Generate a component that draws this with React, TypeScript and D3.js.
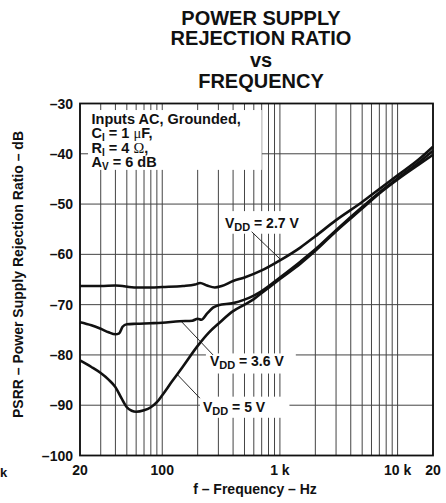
import * as d3 from "d3";
import { useEffect, useRef } from "react";

// frequency (Hz) and PSRR (dB)
const F_27 = [20, 30, 40, 60, 80, 100, 150, 190, 210, 240, 280, 320, 400, 500, 700, 1000, 1500, 2000, 3000, 5000, 7000, 10000, 15000, 20000];
const DB_27 = [-66.3, -66.3, -66.2, -66.6, -66.6, -66.5, -66.3, -66.0, -65.7, -66.2, -66.6, -66.3, -65.3, -64.6, -63.2, -61.2, -58.6, -56.4, -53.2, -49.6, -47.0, -44.3, -41.2, -38.6];

const F_36 = [20, 25, 30, 35, 40, 43, 46, 50, 60, 80, 100, 140, 180, 200, 215, 240, 270, 300, 400, 500, 600, 700, 1000, 1500, 2000, 3000, 5000, 7000, 10000, 15000, 20000];
const DB_36 = [-73.5, -74.1, -74.8, -75.5, -75.9, -75.7, -74.4, -73.9, -73.8, -73.7, -73.6, -73.3, -73.2, -72.8, -73.0, -71.8, -70.6, -70.1, -69.7, -69.0, -68.2, -67.3, -64.6, -61.4, -59.0, -55.2, -50.6, -47.7, -44.9, -41.8, -39.4];

const F_5 = [20, 25, 30, 35, 40, 45, 50, 55, 60, 70, 80, 90, 100, 120, 150, 200, 250, 300, 400, 500, 600, 700, 1000, 1500, 2000, 3000, 5000, 7000, 10000, 15000, 20000];
const DB_5 = [-81.1, -82.4, -83.6, -84.9, -86.4, -88.6, -90.4, -91.1, -91.3, -91.0, -90.4, -89.4, -88.0, -85.4, -82.3, -78.2, -75.5, -73.8, -71.3, -70.0, -68.9, -67.7, -64.9, -61.8, -59.3, -55.4, -50.9, -47.9, -45.1, -42.2, -40.2];

const X_TICKS = [20, 100, 1000, 10000, 20000];
const X_TICK_LABELS = ["20", "100", "1 k", "10 k", "20"];
const Y_TICKS = [-30, -40, -50, -60, -70, -80, -90, -100];
const GRID_F = [20, 30, 40, 50, 60, 70, 80, 90, 100, 200, 300, 400, 500, 600, 700, 800, 900, 1000, 2000, 3000, 4000, 5000, 6000, 7000, 8000, 9000, 10000, 20000];

// curve labels: text anchor, white box and leader line, in (Hz, dB)
const LABELS = [
  { v: "2.7", at: [341, -54.75], box: [325, 1600, -51.4, -55.9], lead: [[575, -55.5], [1000, -60.9]] },
  { v: "3.6", at: [254, -82.2], box: [235, 1365, -79.7, -83.7], lead: [[146, -73.4], [270, -80]] },
  { v: "5", at: [222, -91.3], box: [209, 1205, -88.3, -92.5], lead: [[133, -83.8], [209, -88.6]] },
];

const COND_BOX = [23.4, 700, -31.3, -43.2];
const COND_LINES = [
  [{ t: "Inputs AC, Grounded," }],
  [{ t: "C" }, { t: "I", sub: true }, { t: " = 1 " }, { t: "\u03bc", serif: true }, { t: "F," }],
  [{ t: "R" }, { t: "I", sub: true }, { t: " = 4 " }, { t: "\u03a9", serif: true }, { t: "," }],
  [{ t: "A" }, { t: "V", sub: true }, { t: " = 6 dB" }],
];

const FONT = "'Liberation Sans', Arial, Helvetica, sans-serif";

export default function App() {
  const ref = useRef<SVGSVGElement | null>(null);

  useEffect(() => {
    const el = ref.current;
    if (!el) return;
    const svg = d3.select(el);
    svg.selectAll("*").remove();

    const W = 446;
    const H = 503;
    const L = 80, R = 433, T = 103.5, B = 455.5;

    const x = d3.scaleLog().domain([20, 20000]).range([L, R]);
    const y = d3.scaleLinear().domain([-100, -30]).range([B, T]);

    svg.attr("width", W).attr("height", H).attr("viewBox", `0 0 ${W} ${H}`)
      .attr("font-family", FONT).attr("font-weight", "bold");

    svg.append("rect").attr("width", W).attr("height", H).attr("fill", "#fff");

    // title
    const title = [["POWER SUPPLY", 25], ["REJECTION RATIO", 45], ["vs", 66.5], ["FREQUENCY", 88.3]] as const;
    svg.selectAll("text.title").data(title).join("text")
      .attr("class", "title")
      .attr("x", 261).attr("y", (d) => d[1])
      .attr("text-anchor", "middle").attr("font-size", 20).attr("fill", "#111")
      .text((d) => d[0]);

    const g = svg.append("g");

    // grid
    g.selectAll("line.vg").data(GRID_F).join("line")
      .attr("class", "vg")
      .attr("x1", (d) => x(d)).attr("x2", (d) => x(d))
      .attr("y1", T).attr("y2", B)
      .attr("stroke", "#444").attr("stroke-width", 1);
    g.selectAll("line.hg").data(Y_TICKS).join("line")
      .attr("class", "hg")
      .attr("x1", L).attr("x2", R)
      .attr("y1", (d) => y(d)).attr("y2", (d) => y(d))
      .attr("stroke", "#444").attr("stroke-width", 1);

    // white boxes over grid
    const boxes = [COND_BOX, ...LABELS.map((l) => l.box)];
    g.selectAll("rect.wb").data(boxes).join("rect")
      .attr("class", "wb")
      .attr("x", (d) => x(d[0])).attr("width", (d) => x(d[1]) - x(d[0]))
      .attr("y", (d) => y(d[2])).attr("height", (d) => y(d[3]) - y(d[2]))
      .attr("fill", "#fff");

    // frame
    g.append("rect").attr("x", L).attr("y", T).attr("width", R - L).attr("height", B - T)
      .attr("fill", "none").attr("stroke", "#111").attr("stroke-width", 1.8);

    // curves
    const line = d3.line<[number, number]>()
      .x((d) => x(d[0])).y((d) => y(d[1]))
      .curve(d3.curveMonotoneX);
    const series: [number[], number[]][] = [[F_27, DB_27], [F_36, DB_36], [F_5, DB_5]];
    g.selectAll("path.curve").data(series).join("path")
      .attr("class", "curve")
      .attr("d", (s) => line(s[0].map((f, i) => [f, s[1][i]] as [number, number])))
      .attr("fill", "none").attr("stroke", "#111").attr("stroke-width", 2.6)
      .attr("stroke-linejoin", "round");

    // leader lines + labels
    g.selectAll("line.lead").data(LABELS).join("line")
      .attr("class", "lead")
      .attr("x1", (d) => x(d.lead[0][0])).attr("y1", (d) => y(d.lead[0][1]))
      .attr("x2", (d) => x(d.lead[1][0])).attr("y2", (d) => y(d.lead[1][1]))
      .attr("stroke", "#111").attr("stroke-width", 0.9);

    LABELS.forEach((l) => {
      const t = g.append("text").attr("x", x(l.at[0])).attr("y", y(l.at[1]))
        .attr("font-size", 14).attr("fill", "#111");
      t.append("tspan").text("V");
      t.append("tspan").attr("font-size", 11).attr("dy", 3).text("DD");
      t.append("tspan").attr("dy", -3).text(` = ${l.v} V`);
    });

    // conditions text
    COND_LINES.forEach((segs, i) => {
      const t = g.append("text").attr("x", 91.5).attr("y", 123.5 + i * 14.5)
        .attr("font-size", 14.5).attr("fill", "#111");
      let shifted = false;
      segs.forEach((s: { t: string; sub?: boolean; serif?: boolean }) => {
        const sp = t.append("tspan").text(s.t);
        if (s.sub) {
          sp.attr("font-size", 10).attr("dy", 3);
          shifted = true;
        } else if (shifted) {
          sp.attr("dy", -3);
          shifted = false;
        }
        if (s.serif) sp.attr("font-family", "'Liberation Serif', 'Times New Roman', serif").attr("font-weight", "normal");
      });
    });

    // y ticks
    g.selectAll("text.yt").data(Y_TICKS).join("text")
      .attr("class", "yt")
      .attr("x", 73).attr("y", (d) => y(d)).attr("dy", "0.36em")
      .attr("text-anchor", "end").attr("font-size", 14).attr("fill", "#111")
      .text((d) => `\u2013${Math.abs(d)}`);

    // x ticks
    g.selectAll("text.xt").data(X_TICKS).join("text")
      .attr("class", "xt")
      .attr("x", (d) => x(d)).attr("y", 475)
      .attr("text-anchor", "middle").attr("font-size", 14).attr("fill", "#111")
      .text((_, i) => X_TICK_LABELS[i]);

    svg.append("text").attr("x", 0).attr("y", 477).attr("font-size", 13).attr("fill", "#111").text("k");

    // axis titles
    svg.append("text").attr("x", 255).attr("y", 494)
      .attr("text-anchor", "middle").attr("font-size", 14).attr("fill", "#111")
      .text("f \u2013 Frequency \u2013 Hz");
    svg.append("text")
      .attr("transform", `translate(23,${(T + B) / 2 - 5}) rotate(-90)`)
      .attr("text-anchor", "middle").attr("font-size", 14).attr("fill", "#111")
      .text("PSRR \u2013 Power Supply Rejection Ratio \u2013 dB");
  }, []);

  return <svg ref={ref} style={{ position: "absolute", left: 0, top: 0, display: "block" }} />;
}
